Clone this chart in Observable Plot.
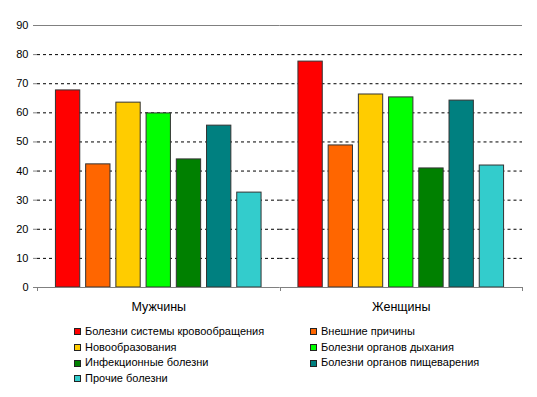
<!DOCTYPE html>
<html>
<head>
<meta charset="utf-8">
<script src="https://cdn.jsdelivr.net/npm/d3@7"></script>
<script src="https://cdn.jsdelivr.net/npm/@observablehq/plot@0.6"></script>
<style>
  body { margin: 0; background: #fff; font-family: "Liberation Sans", Arial, sans-serif; }
  #chart { position: relative; width: 537px; height: 397px; }
  .legend { position: absolute; left: 74px; top: 324px; display: grid; grid-template-columns: 236px auto; font-size: 11px; color: #000; }
  .item { height: 15.7px; line-height: 15.7px; display: flex; align-items: center; white-space: nowrap; }
  .sw { width: 5px; height: 5px; border: 1px solid #222; margin-right: 4px; flex: none; }
</style>
</head>
<body>
<div id="chart"></div>
<script>
const groups = ["Мужчины", "Женщины"];
const categories = [
  "Болезни системы кровообращения",
  "Внешние причины",
  "Новообразования",
  "Болезни органов дыхания",
  "Инфекционные болезни",
  "Болезни органов пищеварения",
  "Прочие болезни"
];
const men = [67.7, 42.3, 63.5, 59.8, 44.0, 55.6, 32.6];
const women = [77.6, 48.8, 66.3, 65.3, 40.9, 64.2, 41.9];
const colors = ["#FF0000", "#FF6600", "#FFCC00", "#00FF00", "#008000", "#008080", "#33CCCC"];
const yTicks = [0, 10, 20, 30, 40, 50, 60, 70, 80, 90];
const gridValues = [10, 20, 30, 40, 50, 60, 70, 80];

const data = [];
categories.forEach((c, i) => data.push({group: groups[0], cat: c, value: men[i]}));
categories.forEach((c, i) => data.push({group: groups[1], cat: c, value: women[i]}));

const W = 537, H = 318, ML = 37, MR = 15, MT = 25, MB = 31;

const plot = Plot.plot({
  width: W, height: H,
  marginLeft: ML, marginRight: MR, marginTop: MT, marginBottom: MB,
  style: {fontFamily: '"Liberation Sans", Arial, sans-serif', fontSize: "11px", background: "white", color: "black"},
  fx: {domain: groups, padding: 0, round: false, label: null},
  x: {domain: categories, paddingInner: 0.195, paddingOuter: 0.61, round: false, axis: null},
  y: {domain: [0, 90], label: null},
  color: {domain: categories, range: colors},
  marks: [
    Plot.ruleY(gridValues, {stroke: "black", strokeDasharray: "3,3", strokeWidth: 1}),
    Plot.ruleY([90], {stroke: "#808080"}),
    Plot.barY(data, {fx: "group", x: "cat", y: "value", fill: "cat", stroke: "#333", strokeWidth: 1}),
    Plot.ruleY([0], {stroke: "#808080"}),
    Plot.axisY({anchor: "left", ticks: yTicks, tickSize: 4, tickPadding: 5, stroke: "#808080", line: true, label: null, fontSize: 11}),
    Plot.axisY({anchor: "right", ticks: yTicks, tickSize: 0, tickFormat: () => "", stroke: "#808080", line: true, label: null}),
    Plot.axisFx({anchor: "bottom", tickSize: 0, tickPadding: 15, label: null, fontSize: 12.5})
  ]
});

// category-boundary ticks below the x axis (Excel style)
const fx = plot.scale("fx");
const y0 = plot.scale("y").apply(0);
const r = fx.range;
const n = fx.domain.length;
const step = (r[1] - r[0]) / n;
const svg = d3.select(plot);
const gT = svg.append("g").attr("stroke", "#808080");
for (let i = 0; i <= n; i++) {
  const xx = Math.round(r[0] + i * step) + 0.5;
  gT.append("line").attr("x1", xx).attr("x2", xx).attr("y1", y0).attr("y2", y0 + 4);
}

const chart = document.getElementById("chart");
chart.appendChild(plot);

// legend, row-wise in two columns
const color = plot.scale("color");
const legend = document.createElement("div");
legend.className = "legend";
color.domain.forEach((c, i) => {
  const it = document.createElement("div");
  it.className = "item";
  const sw = document.createElement("span");
  sw.className = "sw";
  sw.style.background = color.range[i];
  const tx = document.createElement("span");
  tx.textContent = c;
  it.appendChild(sw);
  it.appendChild(tx);
  legend.appendChild(it);
});
chart.appendChild(legend);
</script>
</body>
</html>
